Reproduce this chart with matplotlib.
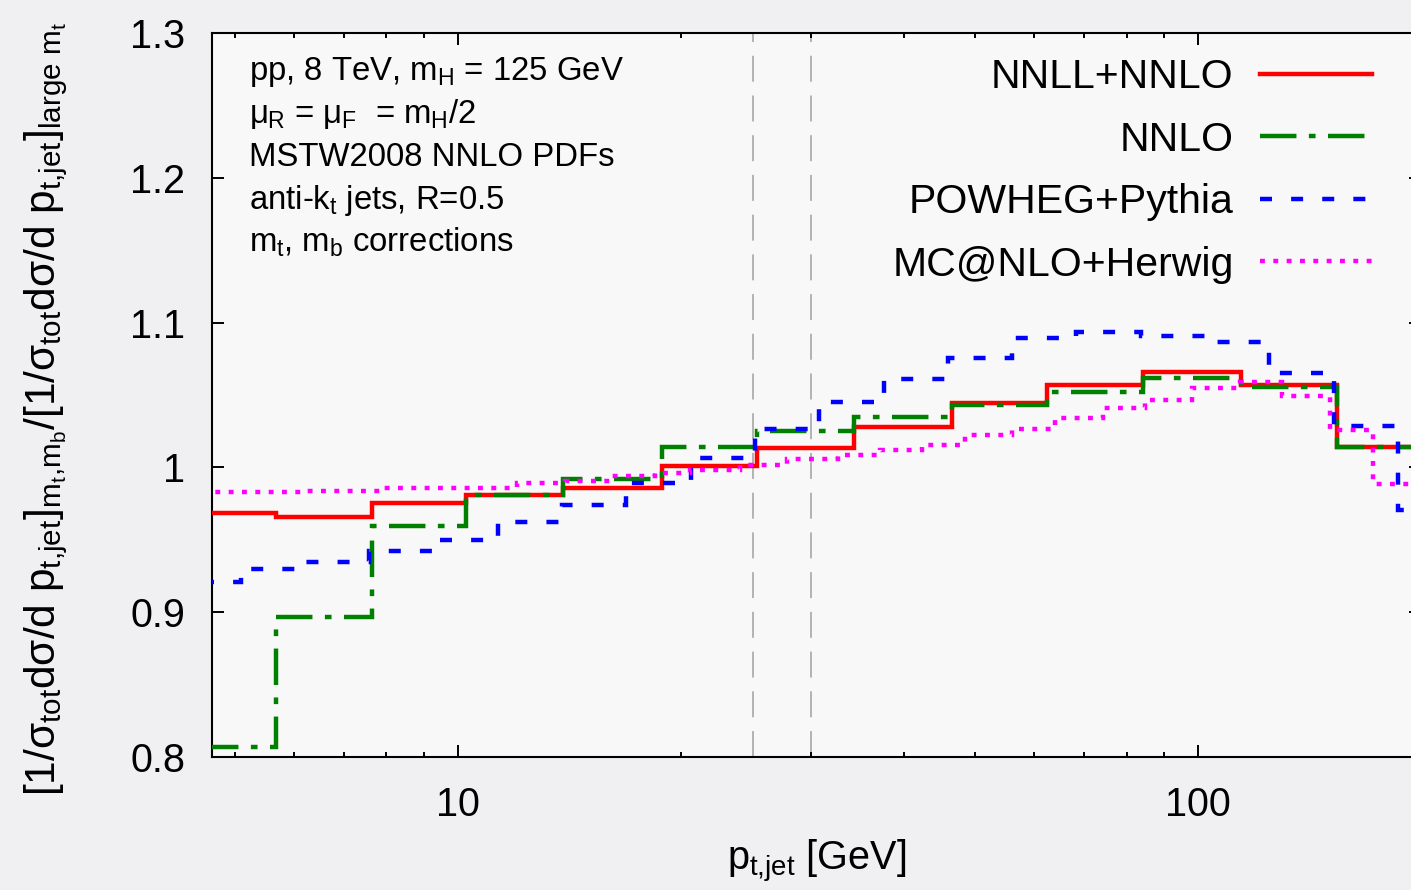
import matplotlib
matplotlib.use('Agg')
import matplotlib.pyplot as plt
from matplotlib.ticker import NullFormatter

plt.rcParams['font.family'] = ['Liberation Sans', 'DejaVu Sans']
plt.rcParams['mathtext.fontset'] = 'custom'
plt.rcParams['mathtext.rm'] = 'Liberation Sans'
plt.rcParams['mathtext.it'] = 'Liberation Sans'
plt.rcParams['mathtext.bf'] = 'Liberation Sans:bold'
plt.rcParams['mathtext.sf'] = 'Liberation Sans'

# bin edges in GeV and ratios
edges_nnll = [4.5, 5.67, 7.64, 10.26, 13.87, 18.83, 25.35, 34.25, 46.43,
              62.39, 84.27, 114.4, 153.8, 210]
ratio_nnll = [0.9686, 0.9659, 0.9751, 0.9809, 0.9855, 1.0009, 1.0135,
              1.028, 1.0442, 1.0568, 1.0656, 1.0568, 1.0142]
ratio_nnlo = [0.807, 0.8964, 0.9595, 0.981, 0.9919, 1.0142, 1.0253,
              1.035, 1.043, 1.0522, 1.0619, 1.0553, 1.0142]

edges_powheg = [4.5, 5.08, 6.21, 7.58, 9.26, 11.31, 13.81, 16.88, 20.62,
                25.18, 30.76, 37.57, 45.89, 56.06, 68.47, 83.63, 102.2,
                124.8, 152.4, 186.2, 210]
ratio_powheg = [0.921, 0.9296, 0.9344, 0.9422, 0.9496, 0.9624, 0.974,
                0.9894, 1.0062, 1.0262, 1.0449, 1.0612, 1.0757, 1.0895,
                1.0936, 1.0907, 1.0867, 1.0653, 1.0287, 0.9705]

edges_mcnlo = [4.5, 6.21, 7.84, 12.0, 13.94, 16.03, 18.45, 20.57, 24.03,
               27.81, 32.6, 37.14, 42.33, 48.38, 56.0, 64.03, 74.33, 84.72,
               98.07, 113.8, 129.8, 150.7, 172.2, 210]
ratio_mcnlo = [0.983, 0.9838, 0.986, 0.9894, 0.9906, 0.994, 0.9963, 0.998,
               1.0016, 1.0055, 1.0085, 1.012, 1.0154, 1.0223, 1.0264,
               1.0338, 1.0407, 1.0465, 1.0546, 1.0591, 1.0492, 1.0258,
               0.9885]

cut_lines = [25, 30]
series_labels = ['NNLL+NNLO', 'NNLO', 'POWHEG+Pythia', 'MC@NLO+Herwig']
yticks = [0.8, 0.9, 1.0, 1.1, 1.2, 1.3]
ytick_labels = ['0.8', '0.9', '1', '1.1', '1.2', '1.3']
xticks = [10, 100]
xtick_labels = ['10', '100']

info_lines = [
    r'pp, 8 TeV, $m_H$ = 125 GeV',
    r'$\mu_R$ = $\mu_F$  = $m_H$/2',
    'MSTW2008 NNLO PDFs',
    r'anti-$k_t$ jets, R=0.5',
    r'$m_t$, $m_b$ corrections',
]

W, H = 1411, 890
fig = plt.figure(figsize=(W / 100, H / 100), dpi=100, facecolor='#f0f0f2')
# axes run past the right edge like in the cropped original
x0, x1, ytop, ybot = 211.7, 1421.0, 32.9, 756.9
ax = fig.add_axes([x0 / W, 1 - ybot / H, (x1 - x0) / W, (ybot - ytop) / H])
ax.set_facecolor('#f8f8f8')
ax.set_xscale('log')
ax.set_xlim(4.644, 200)
ax.set_ylim(0.8, 1.3)

for xc in cut_lines:
    ax.axvline(xc, color='#a0a0a0', lw=1.1, ls=(0, (17, 9)), zorder=1)

lw = 3.2
ax.stairs(ratio_nnll, edges_nnll, baseline=None, color='#ff0000', lw=lw,
          label=series_labels[0], zorder=3)
ax.stairs(ratio_nnlo, edges_nnll, baseline=None,
          color='#008000', lw=lw, ls=(0, (8.2, 2.8, 1.5, 2.8)),
          label=series_labels[1], zorder=4)
ax.stairs(ratio_powheg, edges_powheg, baseline=None, color='#0000ff', lw=lw,
          ls=(0, (2.7, 4.3)), label=series_labels[2], zorder=5)
ax.stairs(ratio_mcnlo, edges_mcnlo, baseline=None, color='#ff00ff', lw=lw,
          ls=(0, (1.1, 1.9)), label=series_labels[3], zorder=6)

ax.set_yticks(yticks, ytick_labels)
ax.set_xticks(xticks, xtick_labels)
ax.xaxis.set_minor_formatter(NullFormatter())
ax.tick_params(which='both', direction='in', top=True, right=True, width=1.4)
ax.tick_params(which='major', length=8.6, labelsize=28.5)
ax.tick_params(axis='y', which='major', pad=19)
ax.tick_params(axis='x', which='major', pad=21)
ax.tick_params(which='minor', length=3.6)
for sp in ax.spines.values():
    sp.set_linewidth(1.5)

ax.set_xlabel(r'$p_{t{,}jet}$ [GeV]', fontsize=28.5)
ax.xaxis.set_label_coords(0.5, -0.112)
ax.set_ylabel(r'$[1/\sigma_{tot}d\sigma/d\ p_{t{,}jet}]_{m_t{,}m_b}'
              r'/[1/\sigma_{tot}d\sigma/d\ p_{t{,}jet}]_{large\ m_t}$',
              fontsize=30.5)
ax.yaxis.set_label_coords(-0.117, 0.481)

for i, line in enumerate(info_lines):
    fig.text(249 / W, 1 - (80 + 43 * i) / H, line, fontsize=23.7,
             va='baseline', ha='left')

ax.legend(loc='upper right', bbox_to_anchor=(1372 / W, 1 - 58 / H),
          bbox_transform=fig.transFigure, frameon=False, markerfirst=False,
          fontsize=29.5, handlelength=2.73, handletextpad=0.65,
          labelspacing=0.6, borderpad=0, borderaxespad=0)

fig.savefig('out.png', dpi=100, facecolor=fig.get_facecolor())
